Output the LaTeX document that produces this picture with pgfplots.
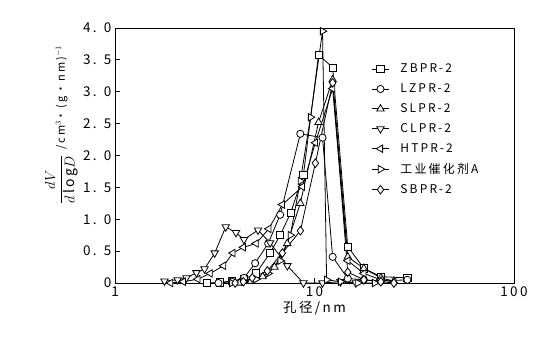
\documentclass[border=0pt]{standalone}
\usepackage{fontspec}
\setmainfont{Noto Sans CJK SC}[LetterSpace=18]
\usepackage{pgfplots}
\pgfplotsset{compat=1.18}
\begin{document}
\begin{tikzpicture}
\path[use as bounding box] (-115pt,-61pt) rectangle (440pt,283pt);
\begin{axis}[
  at={(0,0)}, anchor=south west,
  scale only axis, width=399pt, height=255pt,
  xmode=log, xmin=1, xmax=100, ymin=0, ymax=4,
  xtick={1,10,100}, xticklabels={1,10,100},
  xminorticks=false,
  ytick={0,0.5,1,1.5,2,2.5,3,3.5,4},
  yticklabels={0,0. 5,1. 0,1. 5,2. 0,2. 5,3. 0,3. 5,4. 0},
  tick align=inside, tick pos=left,
  major tick length=5pt,
  axis line style={line width=0.9pt},
  tick style={line width=0.9pt, black},
  /pgf/number format/assume math mode=true,
  tick label style={font=\fontsize{13.5}{13.5}\selectfont},
  xlabel={孔径/nm},
  xlabel style={font=\fontsize{13.5}{13.5}\selectfont, yshift=2pt},
  ylabel={$\displaystyle\frac{dV}{d\,\mathrm{l\,o\,g}D}$ {\fontsize{11}{11}\selectfont /cm$^3$•(g•nm)$^{-1}$}},
  ylabel style={font=\fontsize{14}{14}\selectfont, at={(ticklabel cs:0.62)}, yshift=-2pt},
  legend style={draw=none, fill=none, at={(0.635,0.875)}, anchor=north west,
    font=\fontsize{12}{12}\selectfont, row sep=5.5pt},
  legend cell align=left,
]
% ZBPR-2
\addplot[black, line width=0.8pt, mark=square*, mark size=3.6pt, mark options={fill=white, solid}] coordinates {(2.9,0.0) (3.35,0.01) (3.85,0.03) (4.43,0.06) (5.09,0.15) (5.99,0.47) (6.73,0.75) (7.6,1.1) (8.8,1.7) (10.48,3.58) (12.33,3.38) (14.68,0.57) (17.67,0.23) (21.5,0.1) (29.2,0.08)};
\addlegendentry{\hspace{9pt}ZBPR-2}
% LZPR-2
\addplot[black, line width=0.8pt, mark=*, mark size=3.6pt, mark options={fill=white, solid}] coordinates {(3.3,0.0) (3.85,0.02) (4.43,0.08) (5.04,0.31) (5.86,0.62) (6.73,1.07) (8.49,2.34) (10.97,2.28) (12.33,0.41) (14.68,0.07) (17.67,0.05) (21.5,0.03) (29.2,0.05)};
\addlegendentry{\hspace{9pt}LZPR-2}
% SLPR-2
\addplot[black, line width=0.8pt, mark=triangle*, mark size=4.3pt, mark options={fill=white, solid}] coordinates {(4.2,0.0) (4.8,0.03) (5.5,0.1) (6.3,0.25) (7.3,0.62) (8.49,1.25) (10.48,2.52) (12.33,3.19) (14.68,0.41) (17.67,0.23) (21.5,0.08) (25,0.03)};
\addlegendentry{\hspace{9pt}SLPR-2}
% CLPR-2
\addplot[black, line width=0.8pt, mark=triangle*, mark size=4.3pt, mark options={rotate=180, fill=white, solid}] coordinates {(1.77,0.03) (2.06,0.05) (2.28,0.08) (2.56,0.16) (2.81,0.22) (3.16,0.47) (3.59,0.88) (4.04,0.79) (4.43,0.68) (5.21,0.83) (5.99,0.63) (7.31,0.27) (8.8,0.0) (10.97,0.0) (13.5,0.02) (16.1,0.0)};
\addlegendentry{\hspace{9pt}CLPR-2}
% HTPR-2
\addplot[black, line width=0.8pt, mark=triangle*, mark size=4.3pt, mark options={rotate=90, fill=white, solid}] coordinates {(1.9,0.0) (2.2,0.02) (2.6,0.06) (3.0,0.15) (3.5,0.27) (3.9,0.47) (4.4,0.56) (5.1,0.62) (5.9,0.85) (6.9,1.23) (8.7,1.51) (10.1,2.2) (12.33,3.05) (14.68,0.35) (17.67,0.15) (21.5,0.05) (25,0.02)};
\addlegendentry{\hspace{9pt}HTPR-2}
% A
\addplot[black, line width=0.8pt, mark=triangle*, mark size=4.3pt, mark options={rotate=-90, fill=white, solid}] coordinates {(3.85,0.0) (4.43,0.02) (5.09,0.06) (5.86,0.15) (6.73,0.35) (7.57,0.75) (8.49,1.6) (9.55,2.6) (10.97,3.95) (11.5,0.05) (13.5,0.02) (16.5,0.0) (20,0.0)};
\addlegendentry{\hspace{9pt}工业催化剂A}
% SBPR-2
\addplot[black, line width=0.8pt, mark=diamond*, mark size=4.3pt, mark options={fill=white, solid}] coordinates {(4.0,0.0) (4.4,0.02) (4.87,0.08) (5.8,0.19) (6.9,0.47) (8.5,0.82) (10.1,1.88) (12.33,3.14) (14.68,0.17) (17.67,0.05) (21.5,0.02) (25,0.0)};
\addlegendentry{\hspace{9pt}SBPR-2}
\end{axis}
\end{tikzpicture}
\end{document}
